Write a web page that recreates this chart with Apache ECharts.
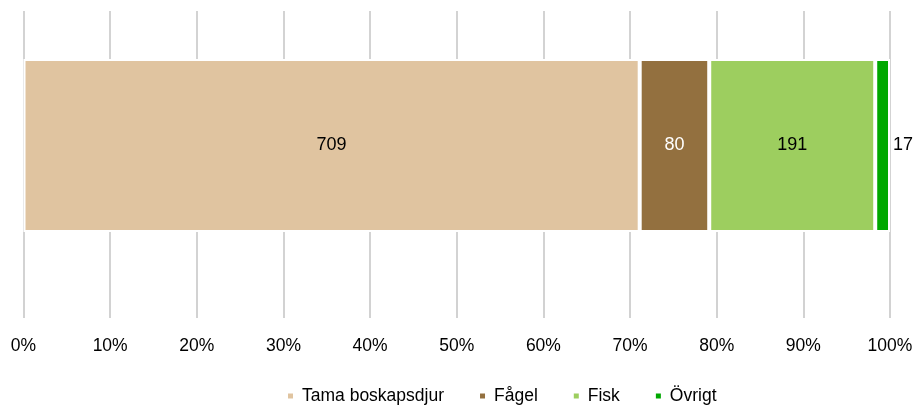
<!DOCTYPE html>
<html>
<head>
<meta charset="utf-8">
<script src="https://cdn.jsdelivr.net/npm/echarts@6/dist/echarts.min.js"></script>
<style>
  html, body { margin: 0; padding: 0; background: #fff; }
  #chart { width: 914px; height: 407px; }
</style>
</head>
<body>
<div id="chart"></div>
<script>
// Fördelning per kategori (antal)
const categories = ['Tama boskapsdjur', 'Fågel', 'Fisk', 'Övrigt'];
const values = [709, 80, 191, 17];
const colors = ['#E0C4A0', '#93703F', '#9DCE5F', '#00A800'];
const labelColors = ['#000', '#fff', '#000', '#000'];
const tickLabels = ['0%', '10%', '20%', '30%', '40%', '50%', '60%', '70%', '80%', '90%', '100%'];

const total = values.reduce((a, b) => a + b, 0);
const FONT = "'Liberation Sans', Arial, sans-serif";

const chart = echarts.init(document.getElementById('chart'));

const series = categories.map((name, i) => ({
  name: name,
  type: 'bar',
  stack: 'total',
  barWidth: 173,
  data: [values[i]],
  itemStyle: { color: colors[i], borderColor: '#fff', borderWidth: 2 },
  label: {
    show: true,
    position: i === categories.length - 1 ? 'right' : 'inside',
    distance: 3,
    color: labelColors[i],
    fontFamily: FONT,
    fontSize: 18
  }
}));

chart.setOption({
  animation: false,
  backgroundColor: '#fff',
  grid: {
    left: 23.5, right: 24, top: 11, height: 269,
    outerBoundsMode: 'none',
    containLabel: false
  },
  xAxis: {
    type: 'value',
    min: 0,
    max: total,
    interval: total / 10,
    axisLine: { show: false },
    axisTick: {
      show: true,
      length: 38,
      lineStyle: { color: '#c4c4c4', width: 1.5 }
    },
    splitLine: { show: true, lineStyle: { color: '#c4c4c4', width: 1.5 } },
    axisLabel: {
      margin: 57,
      color: '#000',
      fontFamily: FONT,
      fontSize: 17.5,
      formatter: (v) => tickLabels[Math.round(v / total * 10)]
    }
  },
  yAxis: {
    type: 'category',
    data: [''],
    axisLine: { show: false },
    axisTick: { show: false },
    axisLabel: { show: false }
  },
  legend: {
    bottom: -3,
    left: 281,
    icon: 'rect',
    itemWidth: 7,
    itemHeight: 7,
    itemGap: 34,
    textStyle: { color: '#000', fontFamily: FONT, fontSize: 17.5, padding: [0, 0, 0, 3] },
    data: categories
  },
  series: series
});
</script>
</body>
</html>
